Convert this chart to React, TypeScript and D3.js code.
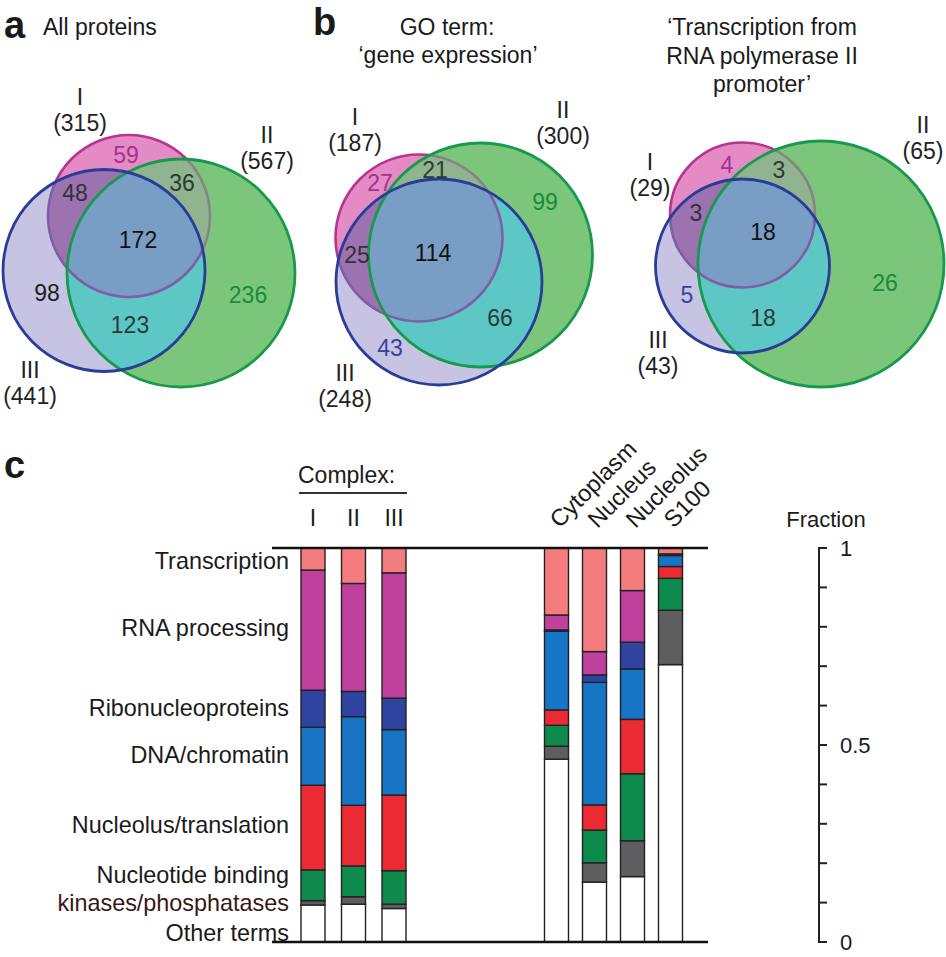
import React from "react";
import * as d3 from "d3";

// ---------- DATA ----------
const setNames = ["I", "II", "III"];
// Venn counts by region: I only, I∩II, II only, I∩III, I∩II∩III, II∩III, III only
const regionKeys = ["I", "I_II", "II", "I_III", "I_II_III", "II_III", "III"];
const vennATotals = [315, 567, 441];
const vennACounts = [59, 36, 236, 48, 172, 123, 98];
const vennBTotals = [187, 300, 248];
const vennBCounts = [27, 21, 99, 25, 114, 66, 43];
const vennCTotals = [29, 65, 43];
const vennCCounts = [4, 3, 26, 3, 18, 18, 5];

const categories = [
  "Transcription",
  "RNA processing",
  "Ribonucleoproteins",
  "DNA/chromatin",
  "Nucleolus/translation",
  "Nucleotide binding",
  "kinases/phosphatases",
  "Other terms",
];
const complexes = ["I", "II", "III"];
const locations = ["Cytoplasm", "Nucleus", "Nucleolus", "S100"];
const complexI = [0.056, 0.305, 0.094, 0.147, 0.215, 0.078, 0.011, 0.094];
const complexII = [0.09, 0.274, 0.064, 0.225, 0.154, 0.078, 0.019, 0.096];
const complexIII = [0.063, 0.318, 0.08, 0.166, 0.192, 0.085, 0.011, 0.085];
const cytoplasm = [0.17, 0.038, 0.003, 0.2, 0.039, 0.053, 0.033, 0.464];
const nucleus = [0.263, 0.059, 0.019, 0.311, 0.064, 0.083, 0.049, 0.152];
const nucleolus = [0.108, 0.131, 0.068, 0.128, 0.138, 0.17, 0.091, 0.166];
const s100 = [0.015, 0, 0.004, 0.028, 0.03, 0.081, 0.138, 0.704];
const fractionTicks = [0, 0.1, 0.2, 0.3, 0.4, 0.5, 0.6, 0.7, 0.8, 0.9, 1];
const fractionLabels = [0, 0.5, 1];

// ---------- STYLE / LAYOUT ----------
const FONT = "'Liberation Sans', Arial, Helvetica, sans-serif";
const catColors = ["#f47c7e", "#c0419d", "#2e44a0", "#1874c4", "#ec2a33", "#0d8a4c", "#5e5e60", "#ffffff"];
const regionFill: Record<string, string> = {
  I: "#e48bc6",
  I_II: "#8fb48f",
  II: "#7cc67c",
  I_III: "#9c72b0",
  I_II_III: "#789ec6",
  II_III: "#5dc7c5",
  III: "#c7c3e2",
};
const regionText: Record<string, string> = {
  I: "#a8308e",
  I_II: "#2e3a2e",
  II: "#1a8a3c",
  I_III: "#333",
  I_II_III: "#111",
  II_III: "#2a3a3a",
  III: "#3a40a0",
};
const labelFrac = [0.967, 0.797, 0.594, 0.475, 0.297, 0.17, 0.099, 0.025];

type Circ = { cx: number; cy: number; r: number };
type VennCfg = {
  id: string;
  circles: Circ[];
  totals: number[];
  counts: number[];
  countPos: [number, number][];
  setLabelPos: [number, number][];
  countColors?: Record<string, string>;
};

const vennPanels: VennCfg[] = [
  {
    id: "va",
    circles: [
      { cx: 129, cy: 216, r: 81 },
      { cx: 181, cy: 273, r: 114 },
      { cx: 104, cy: 270.5, r: 101 },
    ],
    totals: vennATotals,
    counts: vennACounts,
    countPos: [[126, 155], [182, 183], [248, 295], [75, 193], [138, 240], [130, 325], [47, 293]],
    setLabelPos: [[80, 97], [267, 135], [30, 370]],
    countColors: { III: "#1e1e1e" },
  },
  {
    id: "vb",
    circles: [
      { cx: 419, cy: 238, r: 83.5 },
      { cx: 480.5, cy: 255, r: 112 },
      { cx: 439, cy: 282, r: 103 },
    ],
    totals: vennBTotals,
    counts: vennBCounts,
    countPos: [[380, 183], [435, 170], [545, 202], [357, 255], [433, 253], [500, 318], [390, 348]],
    setLabelPos: [[355, 117], [563, 110], [345, 373]],
  },
  {
    id: "vc",
    circles: [
      { cx: 742.5, cy: 215, r: 72.5 },
      { cx: 821, cy: 264, r: 123 },
      { cx: 742.5, cy: 266, r: 87 },
    ],
    totals: vennCTotals,
    counts: vennCCounts,
    countPos: [[727, 165], [779, 170], [885, 283], [696, 213], [763, 232], [763, 318], [687, 295]],
    setLabelPos: [[650, 162], [923, 125], [658, 340]],
  },
];

const membership: Record<string, number[]> = {
  I: [0],
  I_II: [0, 1],
  II: [1],
  I_III: [0, 2],
  I_II_III: [0, 1, 2],
  II_III: [1, 2],
  III: [2],
};

function Venn({ cfg }: { cfg: VennCfg }) {
  const { id, circles } = cfg;
  const maskId = (exc: number[]) => `${id}-m-${exc.join("")}`;
  const clipId = (i: number) => `${id}-c${i}`;
  const allMasks = [[1], [2], [0], [1, 2], [0, 2], [0, 1]];

  const wrap = (inc: number[], el: React.ReactNode, key: string) => {
    const exc = [0, 1, 2].filter((i) => !inc.includes(i));
    let node: React.ReactNode = el;
    inc.slice(1).forEach((i) => {
      node = <g clipPath={`url(#${clipId(i)})`}>{node}</g>;
    });
    if (exc.length) node = <g mask={`url(#${maskId(exc)})`}>{node}</g>;
    return <g key={key}>{node}</g>;
  };

  const c0 = circles[0];
  const strokeI = (color: string, inside: number[], outside: number[], key: string) => {
    let node: React.ReactNode = (
      <circle cx={c0.cx} cy={c0.cy} r={c0.r} fill="none" stroke={color} strokeWidth={2.6} />
    );
    inside.forEach((i) => {
      node = <g clipPath={`url(#${clipId(i)})`}>{node}</g>;
    });
    if (outside.length) node = <g mask={`url(#${maskId(outside)})`}>{node}</g>;
    return <g key={key}>{node}</g>;
  };

  return (
    <g>
      <defs>
        {circles.map((c, i) => (
          <clipPath id={clipId(i)} key={i}>
            <circle cx={c.cx} cy={c.cy} r={c.r} />
          </clipPath>
        ))}
        {allMasks.map((exc) => (
          <mask id={maskId(exc)} key={exc.join("")} maskUnits="userSpaceOnUse" x={0} y={0} width={946} height={957}>
            <rect x={0} y={0} width={946} height={957} fill="white" />
            {exc.map((i) => (
              <circle key={i} cx={circles[i].cx} cy={circles[i].cy} r={circles[i].r} fill="black" />
            ))}
          </mask>
        ))}
      </defs>
      {regionKeys.map((k) => {
        const inc = membership[k];
        const c = circles[inc[0]];
        return wrap(inc, <circle cx={c.cx} cy={c.cy} r={c.r} fill={regionFill[k]} />, k);
      })}
      {strokeI("#b8348f", [], [1, 2], "s1")}
      {strokeI("#858585", [1], [2], "s2")}
      {strokeI("#7f5ea8", [2], [], "s3")}
      <circle cx={circles[1].cx} cy={circles[1].cy} r={circles[1].r} fill="none" stroke="#179a4c" strokeWidth={2.8} />
      <circle cx={circles[2].cx} cy={circles[2].cy} r={circles[2].r} fill="none" stroke="#283c98" strokeWidth={2.8} />
      {regionKeys.map((k, i) => (
        <text
          key={k}
          x={cfg.countPos[i][0]}
          y={cfg.countPos[i][1]}
          dy="0.36em"
          textAnchor="middle"
          fontSize={23}
          fill={(cfg.countColors && cfg.countColors[k]) || regionText[k]}
        >
          {cfg.counts[i]}
        </text>
      ))}
      {setNames.map((s, i) => (
        <g key={s}>
          <text x={cfg.setLabelPos[i][0]} y={cfg.setLabelPos[i][1]} dy="0.36em" textAnchor="middle" fontSize={23} fill="#222">
            {s}
          </text>
          <text x={cfg.setLabelPos[i][0]} y={cfg.setLabelPos[i][1] + 26} dy="0.36em" textAnchor="middle" fontSize={23} fill="#222">
            ({cfg.totals[i]})
          </text>
        </g>
      ))}
    </g>
  );
}

export default function App() {
  const y = d3.scaleLinear().domain([0, 1]).range([942, 548]);
  const xComplex = d3.scalePoint<string>().domain(complexes).range([313, 394]);
  const xLoc = d3.scalePoint<string>().domain(locations).range([556.5, 670.5]);
  const barW = 24;

  const keys = categories.map((_, i) => String(i));
  const toRow = (vals: number[]) => {
    const o: Record<string, number> = {};
    vals.forEach((v, i) => (o[String(i)] = v));
    return o;
  };
  const stack = d3.stack<Record<string, number>>().keys([...keys].reverse());
  const complexStack = stack([complexI, complexII, complexIII].map(toRow));
  const locStack = stack([cytoplasm, nucleus, nucleolus, s100].map(toRow));

  const bars: React.ReactNode[] = [];
  const pushBars = (st: d3.Series<Record<string, number>, string>[], names: string[], sx: (s: string) => number | undefined, pre: string) => {
    st.forEach((layer) => {
      const ci = +layer.key;
      layer.forEach((d, j) => {
        if (d[1] - d[0] <= 0) return;
        bars.push(
          <rect
            key={`${pre}${ci}-${j}`}
            x={(sx(names[j]) as number) - barW / 2}
            y={y(d[1])}
            width={barW}
            height={y(d[0]) - y(d[1])}
            fill={catColors[ci]}
            stroke="#222"
            strokeWidth={1.4}
          />
        );
      });
    });
  };
  pushBars(complexStack, complexes, xComplex, "c");
  pushBars(locStack, locations, xLoc, "l");

  const axisX = 819;

  return (
    <svg
      width={946}
      height={957}
      style={{ position: "absolute", left: 0, top: 0, background: "#fff" }}
      fontFamily={FONT}
    >
      <rect x={0} y={0} width={946} height={957} fill="#fff" />
      <text x={4} y={38} fontSize={38} fontWeight="bold" fill="#1a1a1a">a</text>
      <text x={43} y={35} fontSize={23} fill="#1a1a1a">All proteins</text>
      <text x={313} y={35} fontSize={38} fontWeight="bold" fill="#1a1a1a">b</text>
      <text x={447} y={35} fontSize={23} textAnchor="middle" fill="#1a1a1a">GO term:</text>
      <text x={448} y={63} fontSize={23} textAnchor="middle" fill="#1a1a1a">‘gene expression’</text>
      <text x={762} y={35} fontSize={23} textAnchor="middle" fill="#1a1a1a">‘Transcription from</text>
      <text x={762} y={64} fontSize={23} textAnchor="middle" fill="#1a1a1a">RNA polymerase II</text>
      <text x={762} y={92} fontSize={23} textAnchor="middle" fill="#1a1a1a">promoter’</text>

      {vennPanels.map((p) => (
        <Venn cfg={p} key={p.id} />
      ))}

      <text x={4} y={478} fontSize={38} fontWeight="bold" fill="#1a1a1a">c</text>
      <text x={298} y={483} fontSize={23} fill="#1a1a1a">Complex:</text>
      <line x1={299} x2={407} y1={493} y2={493} stroke="#333" strokeWidth={2} />
      {complexes.map((c) => (
        <text key={c} x={xComplex(c)} y={526} fontSize={23} textAnchor="middle" fill="#1a1a1a">
          {c}
        </text>
      ))}
      {locations.map((l) => {
        const cx = (xLoc(l) as number) + 3;
        const cy = 529;
        return (
          <text key={l} x={cx} y={cy} fontSize={23.5} fill="#1a1a1a" transform={`rotate(-45 ${cx} ${cy})`}>
            {l}
          </text>
        );
      })}

      {categories.map((c, i) => (
        <text
          key={c}
          x={289}
          y={y(labelFrac[i])}
          dy="0.36em"
          textAnchor="end"
          fontSize={23.4}
          fill={i === 6 ? "#3a1616" : "#1a1a1a"}
        >
          {c}
        </text>
      ))}

      {bars}
      <line x1={272} x2={708} y1={y(1)} y2={y(1)} stroke="#111" strokeWidth={2.6} />
      <line x1={272} x2={708} y1={y(0)} y2={y(0)} stroke="#111" strokeWidth={2.6} />

      <text x={826} y={527} fontSize={22} textAnchor="middle" fill="#1a1a1a">Fraction</text>
      <line x1={axisX} x2={axisX} y1={y(0)} y2={y(1)} stroke="#222" strokeWidth={2} />
      {fractionTicks.map((t) => (
        <line key={t} x1={axisX - 1} x2={axisX + 8} y1={y(t)} y2={y(t)} stroke="#222" strokeWidth={2} />
      ))}
      {fractionLabels.map((t) => (
        <text key={t} x={840} y={y(t)} dy="0.36em" fontSize={22} fill="#1a1a1a">
          {d3.format("")(t)}
        </text>
      ))}
    </svg>
  );
}
